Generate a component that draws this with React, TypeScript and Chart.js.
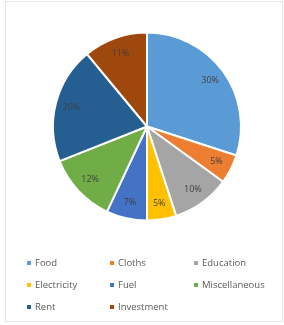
import React, { useEffect, useRef } from "react";
import { Chart, registerables } from "chart.js";

Chart.register(...registerables);

const categories = ["Food", "Cloths", "Education", "Electricity", "Fuel", "Miscellaneous", "Rent", "Investment"];
const values = [30, 5, 10, 5, 7, 12, 20, 11];
const colors = ["#5B9BD5", "#ED7D31", "#A5A5A5", "#FFC000", "#4472C4", "#70AD47", "#255E91", "#9E480E"];
const legendColumnsX = [29, 112, 196];
const legendRowsY = [263, 285, 307];

const FONT = "'Open Sans', Lato, sans-serif";

const labelPlugin = {
  id: "sliceLabels",
  afterDatasetsDraw(chart: any) {
    const ctx = chart.ctx;
    const meta = chart.getDatasetMeta(0);
    const total = values.reduce((a, b) => a + b, 0);
    ctx.save();
    ctx.font = `9px ${FONT}`;
    ctx.fillStyle = "#404040";
    ctx.textAlign = "center";
    ctx.textBaseline = "middle";
    meta.data.forEach((arc: any, i: number) => {
      const { x, y, startAngle, endAngle, outerRadius } = arc.getProps(["x", "y", "startAngle", "endAngle", "outerRadius"], true);
      const mid = (startAngle + endAngle) / 2;
      const r = outerRadius * 0.83;
      const pct = Math.round((values[i] / total) * 100) + "%";
      ctx.fillText(pct, x + Math.cos(mid) * r, y + Math.sin(mid) * r);
    });
    ctx.restore();
  },
};

const legendPlugin = {
  id: "gridLegend",
  afterDraw(chart: any) {
    const ctx = chart.ctx;
    ctx.save();
    ctx.strokeStyle = "#E6E6E6";
    ctx.lineWidth = 1;
    ctx.strokeRect(5.5, 1.5, 277, 320);
    ctx.font = `9.5px ${FONT}`;
    ctx.textBaseline = "middle";
    ctx.textAlign = "left";
    categories.forEach((c, i) => {
      const col = i % 3;
      const row = Math.floor(i / 3);
      const x = legendColumnsX[col];
      const y = legendRowsY[row];
      ctx.fillStyle = colors[i];
      ctx.fillRect(x - 2, y - 2, 4, 4);
      ctx.fillStyle = "#595959";
      ctx.fillText(c, x + 6, y);
    });
    ctx.restore();
  },
};

export default function App() {
  const ref = useRef<HTMLCanvasElement | null>(null);
  useEffect(() => {
    if (!ref.current) return;
    const chart = new Chart(ref.current, {
      type: "pie",
      data: {
        labels: categories,
        datasets: [
          {
            data: values,
            backgroundColor: colors,
            borderColor: "#FFFFFF",
            borderWidth: 2,
          },
        ],
      },
      options: {
        animation: false,
        responsive: false,
        maintainAspectRatio: false,
        layout: { padding: { left: 52, right: 42, top: 31, bottom: 103 } },
        plugins: {
          legend: { display: false },
          tooltip: { enabled: false },
        },
      },
      plugins: [labelPlugin, legendPlugin],
    });
    return () => chart.destroy();
  }, []);
  return (
    <div style={{ position: "absolute", left: 0, top: 0, width: 284, height: 325, background: "#fff" }}>
      <canvas ref={ref} width={284} height={325} style={{ width: 284, height: 325, display: "block" }} />
    </div>
  );
}
